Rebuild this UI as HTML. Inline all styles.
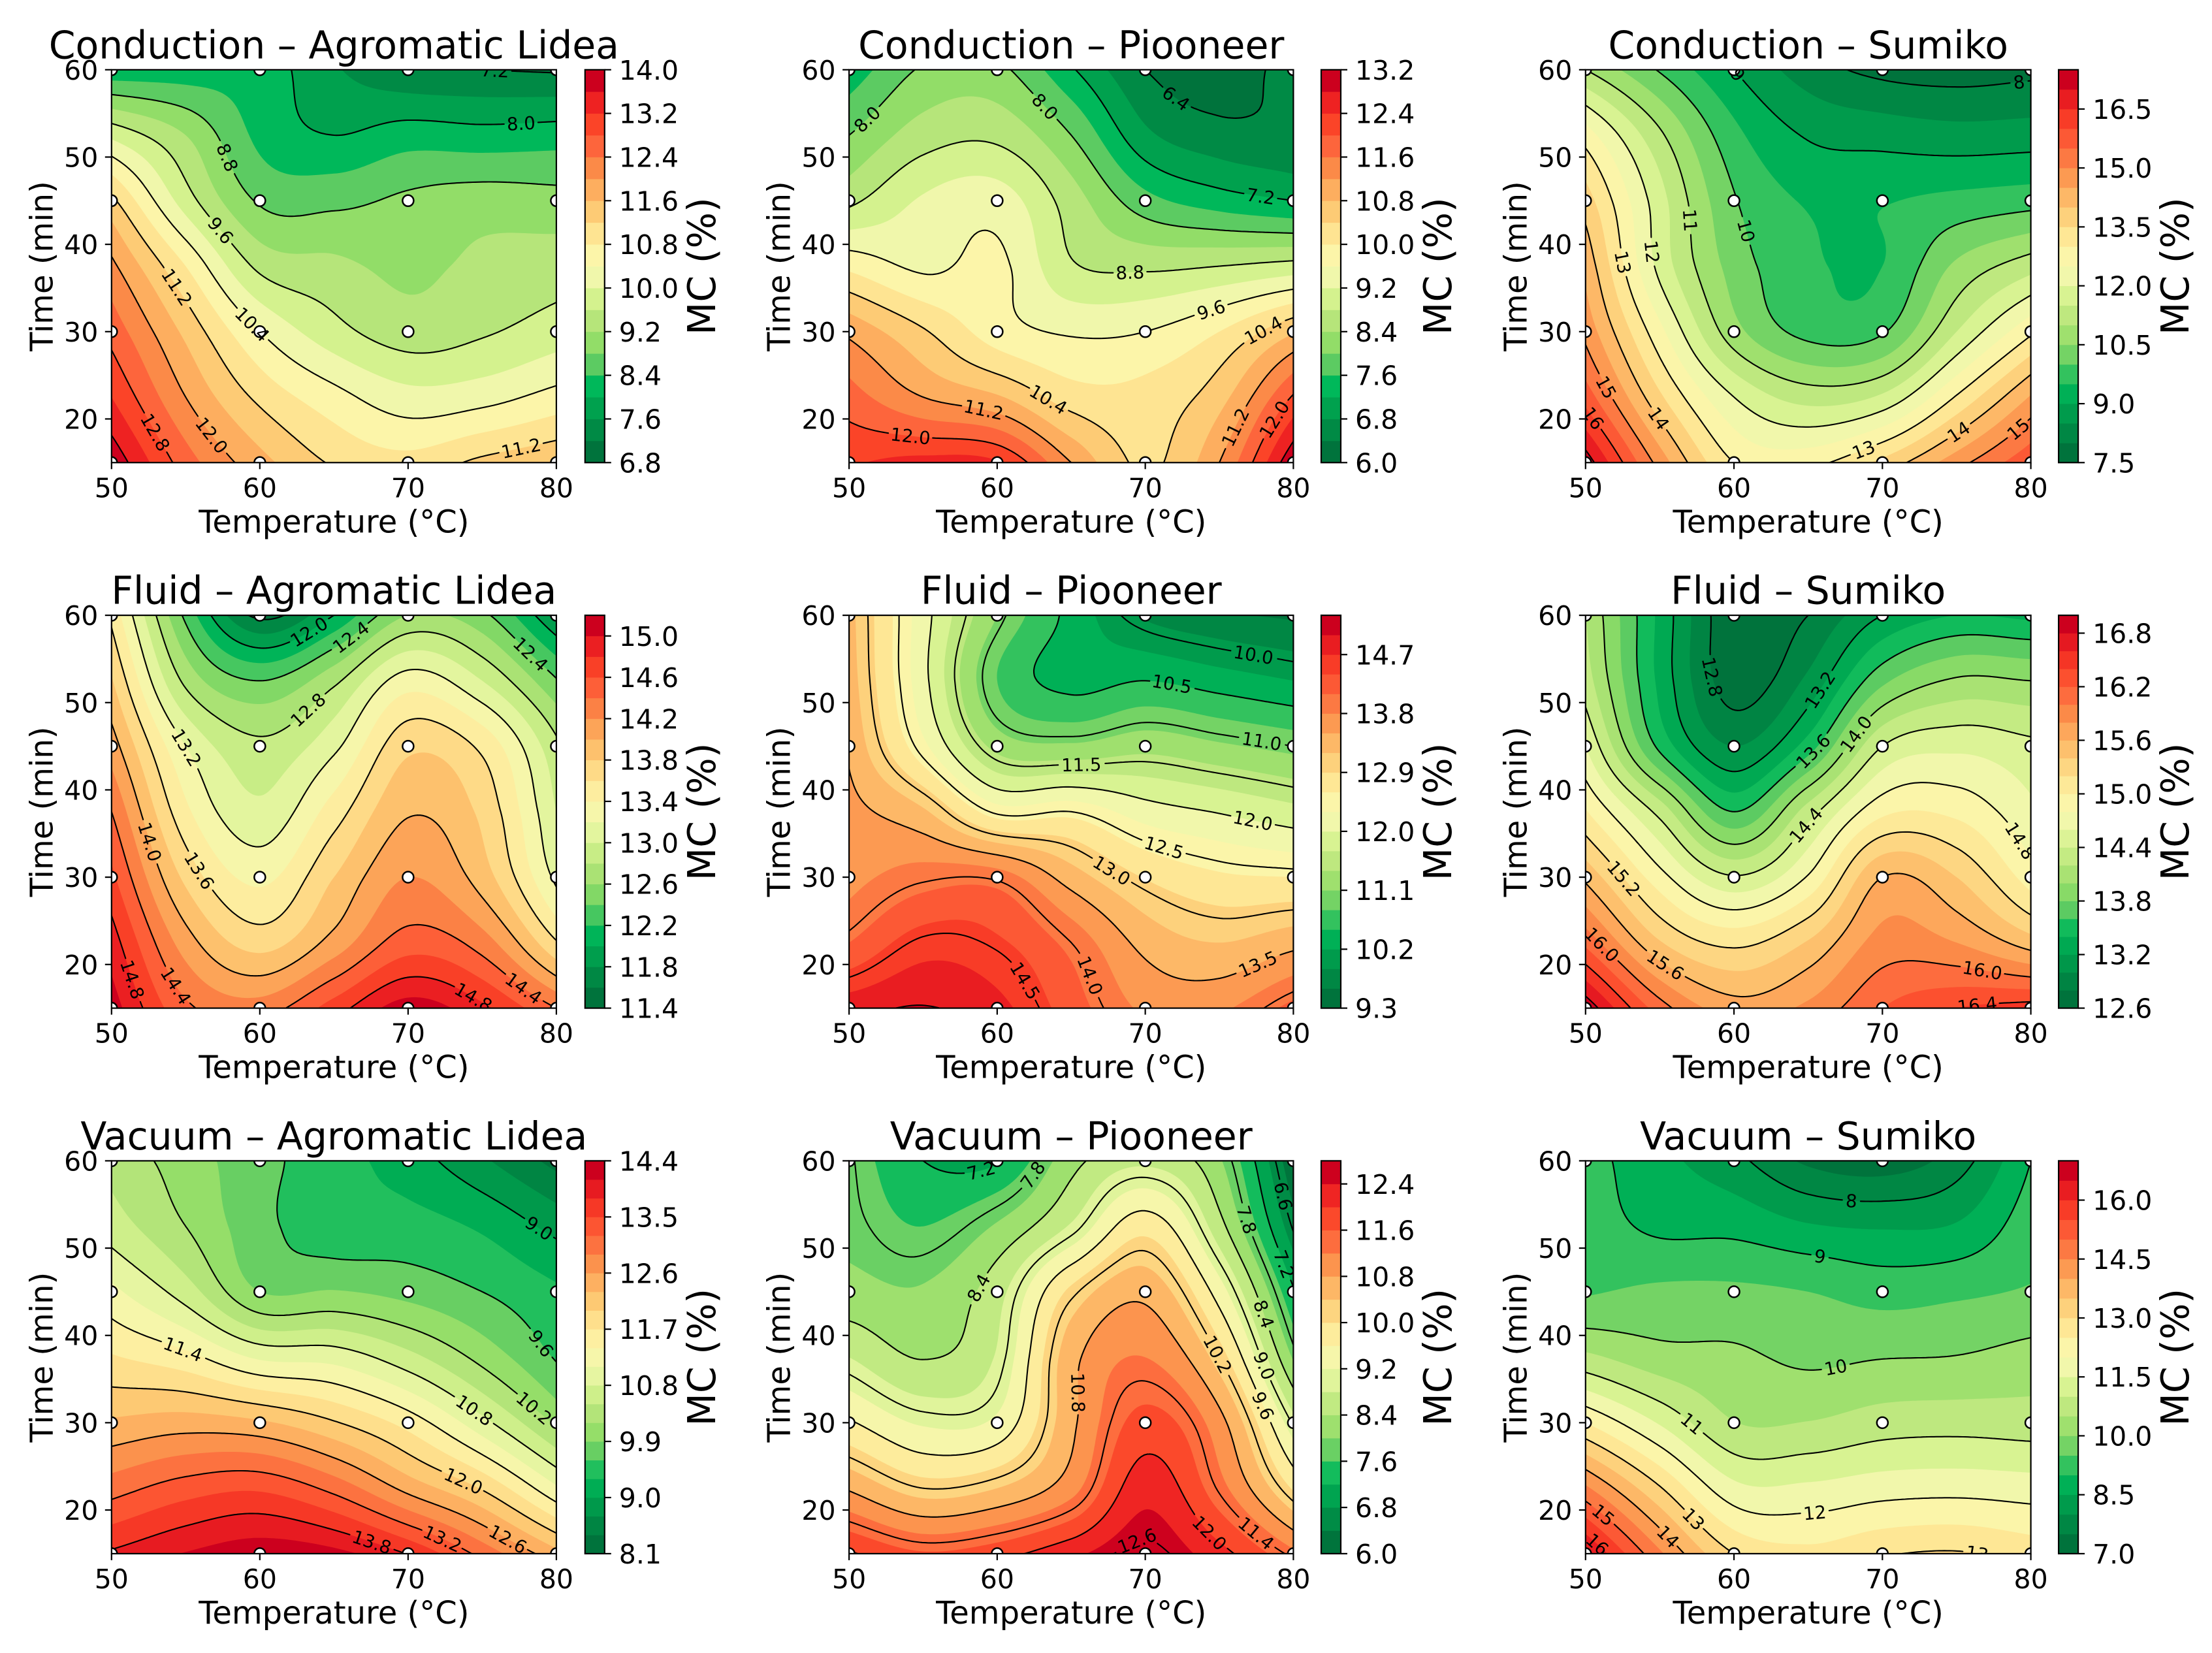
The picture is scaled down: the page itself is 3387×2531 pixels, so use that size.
<!DOCTYPE html>
<html lang="en">
<head>
<meta charset="utf-8">
<title>Moisture content contour maps</title>
<style>
html,body{margin:0;padding:0;background:#fff;}
svg{display:block;}
text{font-family:"DejaVu Sans","Liberation Sans",sans-serif;fill:#000;}
</style>
</head>
<body>
<svg id="chart" xmlns="http://www.w3.org/2000/svg" width="3387" height="2531" viewBox="0 0 3387 2531">
<rect x="0" y="0" width="3387" height="2531" fill="#ffffff"></rect>
</svg>
<script>
// ---- Shared axes data ----
const temperatures = [50, 55, 60, 65, 70, 75, 80];
const times = [15, 22.5, 30, 37.5, 45, 52.5, 60];
const sampleTemperatures = [50, 60, 70, 80];
const sampleTimes = [15, 30, 45, 60];
const xTickValues = [50, 60, 70, 80];
const yTickValues = [20, 30, 40, 50, 60];
const panelTitles = [
  'Conduction – Agromatic Lidea', 'Conduction – Piooneer', 'Conduction – Sumiko',
  'Fluid – Agromatic Lidea', 'Fluid – Piooneer', 'Fluid – Sumiko',
  'Vacuum – Agromatic Lidea', 'Vacuum – Piooneer', 'Vacuum – Sumiko'
];

// ---- MC (%) surfaces: one row per time, one column per temperature ----
const conductionAgromatic = [
  [13.9,12.6,11.75,11.15,10.95,11.3,11.55],
  [13.2,12.0,11.1,10.55,10.15,10.25,10.55],
  [12.65,11.5,10.4,9.75,9.4,9.55,9.8],
  [12.1,10.8,9.5,9.3,9.1,9.3,9.4],
  [11.3,9.8,8.75,8.7,8.88,9.0,8.95],
  [9.9,9.2,8.3,8.0,8.2,8.15,8.2],
  [8.1,8.15,8.2,7.65,7.25,7.2,7.15]
];
const conductionPiooneer = [
  [12.35,12.55,12.45,11.2,10.33,11.2,13.15],
  [11.78,11.2,10.85,10.2,10.15,10.65,12.05],
  [11.1,10.45,9.8,9.55,9.6,10.0,10.75],
  [9.9,9.52,9.7,8.85,8.72,8.8,8.95],
  [8.7,9.25,9.4,8.6,7.75,7.4,7.2],
  [8.0,8.6,8.7,8.0,6.9,6.55,6.5],
  [7.35,8.05,8.1,7.25,6.4,6.15,6.6]
];
const conductionSumiko = [
  [17.3,14.8,13.0,12.85,13.65,14.8,15.9],
  [15.8,13.6,12.0,11.3,11.6,13.05,14.55],
  [14.85,12.65,10.7,9.85,9.95,11.5,12.9],
  [14.35,11.85,10.3,9.6,9.5,10.6,11.3],
  [13.75,11.7,10.05,9.45,9.47,9.65,9.8],
  [12.75,11.1,9.65,8.95,8.8,8.7,8.75],
  [11.0,9.95,9.0,8.25,7.85,7.75,7.85]
];
const fluidAgromatic = [
  [15.1,14.45,14.3,14.7,15.1,14.85,14.4],
  [14.9,14.1,13.72,14.08,14.5,14.3,13.62],
  [14.65,13.75,13.35,13.8,14.2,13.9,13.15],
  [14.4,13.45,13.05,13.5,13.98,13.75,13.0],
  [14.1,13.2,12.85,13.15,13.75,13.55,12.85],
  [13.82,12.75,12.4,12.75,13.3,13.0,12.42],
  [13.55,12.35,11.55,12.0,12.6,12.45,11.8]
];
const fluidPiooneer = [
  [14.9,15.02,14.8,14.25,13.75,13.75,14.2],
  [14.1,14.55,14.45,14.0,13.4,13.2,13.4],
  [13.7,13.95,13.95,13.35,12.88,12.65,12.6],
  [13.6,13.25,12.45,12.5,12.15,11.98,11.8],
  [13.45,12.38,11.3,11.15,11.3,11.15,11.0],
  [13.35,12.1,10.8,10.4,10.5,10.35,10.2],
  [13.3,12.13,11.1,10.4,9.85,9.65,9.55]
];
const fluidSumiko = [
  [16.95,16.1,15.7,15.85,16.2,16.4,16.5],
  [16.15,15.42,15.15,15.42,15.88,15.8,15.5],
  [15.55,14.88,14.42,14.82,15.6,15.4,14.9],
  [15.02,14.33,13.6,14.3,14.95,14.95,14.65],
  [14.6,13.55,13.0,13.5,14.4,14.55,14.45],
  [14.3,13.35,12.7,13.05,13.75,14.03,14.0],
  [14.2,13.35,12.65,12.8,13.2,13.4,13.35]
];
const vacuumAgromatic = [
  [13.85,14.12,14.3,14.2,13.78,13.1,12.4],
  [13.07,13.35,13.45,13.1,12.5,11.97,11.15],
  [12.35,12.45,12.35,12.03,11.58,10.9,10.15],
  [11.73,11.5,11.05,10.98,10.6,10.1,9.57],
  [11.18,10.65,9.9,9.92,9.8,9.6,9.35],
  [10.65,10.2,9.7,9.42,9.42,9.25,8.9],
  [10.4,10.05,9.7,9.42,9.15,8.75,8.3]
];
const vacuumPiooneer = [
  [12.05,11.65,11.85,12.3,12.7,12.15,11.3],
  [10.75,10.2,10.4,11.05,12.25,11.35,9.95],
  [9.65,9.15,9.3,10.7,11.75,10.95,8.95],
  [8.8,8.38,8.85,10.65,11.2,10.2,7.95],
  [8.15,8.05,8.65,10.1,10.68,9.4,7.25],
  [7.9,7.6,8.05,8.85,9.85,8.55,6.55],
  [7.85,7.2,7.15,8.25,8.7,8.05,6.1]
];
const vacuumSumiko = [
  [16.6,14.6,13.0,12.65,12.95,13.05,12.8],
  [14.6,13.05,11.65,11.6,11.78,11.83,11.75],
  [12.5,11.45,10.52,10.52,10.75,10.8,10.75],
  [10.62,10.2,10.1,9.9,9.98,10.02,10.2],
  [9.45,9.6,9.6,9.5,9.3,9.4,9.55],
  [9.25,8.9,8.85,8.55,8.45,8.55,9.3],
  [9.2,8.65,8.15,7.4,7.2,7.75,9.0]
];
const panelSurfaces = [conductionAgromatic, conductionPiooneer, conductionSumiko, fluidAgromatic, fluidPiooneer, fluidSumiko, vacuumAgromatic, vacuumPiooneer, vacuumSumiko];

// ---- Contour levels ----
const bandStarts = [6.8, 6.0, 7.5, 11.4, 9.3, 12.6, 8.1, 6.0, 7.0];
const bandSteps = [0.4, 0.4, 0.5, 0.2, 0.3, 0.2, 0.3, 0.4, 0.5];
const bandCounts = [18, 18, 20, 19, 20, 22, 21, 17, 20];
const lineLevels = [
  [7.2,8.0,8.8,9.6,10.4,11.2,12.0,12.8,13.6],
  [6.4,7.2,8.0,8.8,9.6,10.4,11.2,12.0,12.8],
  [8,9,10,11,12,13,14,15,16,17],
  [11.6,12.0,12.4,12.8,13.2,13.6,14.0,14.4,14.8],
  [10.0,10.5,11.0,11.5,12.0,12.5,13.0,13.5,14.0,14.5,15.0],
  [12.8,13.2,13.6,14.0,14.4,14.8,15.2,15.6,16.0,16.4,16.8],
  [9.0,9.6,10.2,10.8,11.4,12.0,12.6,13.2,13.8],
  [6.6,7.2,7.8,8.4,9.0,9.6,10.2,10.8,11.4,12.0,12.6],
  [8,9,10,11,12,13,14,15,16]
];
const lineDecimals = [1, 1, 0, 1, 1, 1, 1, 1, 0];
const colorbarTicks = [
  ['6.8','7.6','8.4','9.2','10.0','10.8','11.6','12.4','13.2','14.0'],
  ['6.0','6.8','7.6','8.4','9.2','10.0','10.8','11.6','12.4','13.2'],
  ['7.5','9.0','10.5','12.0','13.5','15.0','16.5'],
  ['11.4','11.8','12.2','12.6','13.0','13.4','13.8','14.2','14.6','15.0'],
  ['9.3','10.2','11.1','12.0','12.9','13.8','14.7'],
  ['12.6','13.2','13.8','14.4','15.0','15.6','16.2','16.8'],
  ['8.1','9.0','9.9','10.8','11.7','12.6','13.5','14.4'],
  ['6.0','6.8','7.6','8.4','9.2','10.0','10.8','11.6','12.4'],
  ['7.0','8.5','10.0','11.5','13.0','14.5','16.0']
];

// ---- Inline contour labels: [level, temperature, time] ----
const contourLabels = [
  [[7.2,75.8,59.7],[8.0,77.6,54],[8.8,57.9,50],[9.6,57.1,41.3],[10.4,59.5,30.9],[11.2,54.3,34.9],[11.2,77.6,17],[12.0,56.8,18.2],[12.8,53,18.6]],
  [[6.4,72.1,56.8],[7.2,77.8,45.6],[8.0,51.1,54.5],[8.0,63,55.5],[8.8,69,37.1],[9.6,74.4,32.8],[10.4,77.8,30.5],[10.4,63.3,21.8],[11.2,59.1,21.4],[11.2,75.9,19.1],[12.0,54.2,18.3],[12.0,78.6,20.1]],
  [[8,79.1,59],[9,60.2,59.3],[10,60.7,41.4],[11,57,42.8],[12,54.8,39.1],[13,52.6,38.1],[14,54.9,20],[15,51.4,23.7],[16,50.7,20.2],[13,68.7,16.7],[14,75.1,18.5],[15,79,19.1]],
  [[12.0,63.3,58.3],[12.4,66,57.8],[12.4,78.5,56],[12.8,63,49.7],[13.2,55.2,44.9],[13.6,55.7,30.5],[14.0,52.6,34.1],[14.4,54.5,17.8],[14.8,51.4,18.2],[14.8,74.5,16.8],[14.4,77.9,17.4]],
  [[10.0,77.3,55.5],[10.5,71.8,52.1],[11.0,77.9,45.8],[11.5,65.7,43],[12.0,77.3,36.8],[12.5,71.3,33.3],[13.0,67.8,30.9],[13.5,77.6,19.7],[14.0,66,18.6],[14.5,62.3,18.6]],
  [[12.8,59.2,53.3],[13.2,66,51.3],[13.6,65.1,44.7],[14.0,68.2,46.5],[14.4,64.9,36],[14.8,78.9,33.7],[15.2,52.4,29.6],[15.6,55.5,20.4],[16.0,51.1,22.2],[16.0,76.7,19.2],[16.4,76.3,15.8]],
  [[9.0,78.8,52.4],[9.6,79,39.1],[10.2,78.4,31.3],[10.8,74.4,31.3],[11.4,54.9,38.6],[12.0,73.7,23.1],[12.6,76.8,16.8],[13.2,72.4,16.8],[13.8,67.6,16.4]],
  [[6.6,79.5,56],[7.2,58.9,58.9],[7.8,62.4,58.5],[7.8,77.2,53.4],[7.2,79.4,48.1],[8.4,59.1,45.2],[8.4,78.2,42.7],[9.0,78.2,36.7],[9.6,77.9,32],[10.2,74.9,37.9],[10.8,66,33.6],[11.4,77.5,17.4],[12.0,74.3,17.3],[12.6,69.7,15.5]],
  [[8,67.9,55],[9,65.8,49.1],[10,66.9,36.2],[11,57.2,30],[12,65.5,20],[13,57.2,18.9],[14,55.5,16.8],[15,51.2,19.6],[16,50.9,16.4],[13,76.4,15.5]]
];

// ---- Colormap (green - yellow - red) ----
const cmapColors = ['#00733c','#008a45','#00a14e','#00b85a','#5ccb62','#92dd68','#b6e57a','#d4f28e','#f0f7ab','#fcf5a9','#fee492','#fdcb75','#fdae5f','#fb8a48','#fd653c','#fb4428','#ee2222','#cc001e'];

// ---- Layout ----
const NS = 'http://www.w3.org/2000/svg';
const svg = document.getElementById('chart');
const colLefts = [170.8, 1300.1, 2427.8];
const colWidths = [681.1, 680.3, 681.8];
const rowTops = [106.8, 942.1, 1777.4];
const axesHeight = 601.5;
const cbarLefts = [895.8, 2023.0, 3152.1];
const cbarWidth = 30;
const NX = 170, NY = 150;

function parseHex(h){return [1,3,5].map(i=>parseInt(h.substr(i,2),16));}
function cmap(t){
  const n = cmapColors.length;
  let p = t*n-0.5;
  if(p<0)p=0; if(p>n-1)p=n-1;
  const i = Math.min(Math.floor(p),n-2), u = p-i;
  const a = parseHex(cmapColors[i]), b = parseHex(cmapColors[i+1]);
  return 'rgb('+a.map((v,k)=>Math.round(v+(b[k]-v)*u)).join(',')+')';
}
function node(tag,parent,attrs){
  const e = document.createElementNS(NS,tag);
  for(const k in attrs)e.setAttribute(k,attrs[k]);
  parent.appendChild(e);
  return e;
}
function cell(grid,r,c){
  const mr = grid.length-1, mc = grid[0].length-1;
  if(c<0)return 2*cell(grid,r,0)-cell(grid,r,1);
  if(c>mc)return 2*cell(grid,r,mc)-cell(grid,r,mc-1);
  if(r<0)return 2*cell(grid,0,c)-cell(grid,1,c);
  if(r>mr)return 2*cell(grid,mr,c)-cell(grid,mr-1,c);
  return grid[r][c];
}
function spline(p0,p1,p2,p3,u){
  return 0.5*(2*p1+(-p0+p2)*u+(2*p0-5*p1+4*p2-p3)*u*u+(-p0+3*p1-3*p2+p3)*u*u*u);
}
function surface(grid,T,t){
  const fx = (T-temperatures[0])/(temperatures[1]-temperatures[0]);
  const fy = (t-times[0])/(times[1]-times[0]);
  const c = Math.max(0,Math.min(temperatures.length-2,Math.floor(fx))), u = fx-c;
  const r = Math.max(0,Math.min(times.length-2,Math.floor(fy))), v = fy-r;
  const rows = [];
  for(let k=-1;k<=2;k++){
    rows.push(spline(cell(grid,r+k,c-1),cell(grid,r+k,c),cell(grid,r+k,c+1),cell(grid,r+k,c+2),u));
  }
  return spline(rows[0],rows[1],rows[2],rows[3],v);
}
function fmt(v){return v.toFixed(1);}

function drawPanel(index){
  const col = index%3, row = Math.floor(index/3);
  const left = colLefts[col], width = colWidths[col], top = rowTops[row], height = axesHeight;
  const bottom = top+height, right = left+width;
  const grid = panelSurfaces[index];
  const T0 = temperatures[0], T1 = temperatures[temperatures.length-1];
  const t0 = times[0], t1 = times[times.length-1];
  const xScale = T=>left+(T-T0)/(T1-T0)*width;
  const yScale = t=>bottom-(t-t0)/(t1-t0)*height;
  const xInv = x=>T0+(x-left)/width*(T1-T0);
  const yInv = y=>t0+(bottom-y)/height*(t1-t0);

  const panel = node('g',svg,{});
  
  

  const clip = node('clipPath',panel,{id:'clip-'+index});
  
  
  const clipRect = node('rect',clip,{x:left,y:top,width:width,height:height});
  
  

  const plot = node('g',panel,{'clip-path':'url(#clip-'+index+')'});
  
  

  // evaluate the surface on a fine lattice
  const field = [], px = [], py = [];
  for(let i=0;i<=NX;i++)px.push(left+i/NX*width);
  for(let j=0;j<=NY;j++)py.push(bottom-j/NY*height);
  for(let j=0;j<=NY;j++){
    const line = [];
    for(let i=0;i<=NX;i++)line.push(surface(grid,xInv(px[i]),yInv(py[j])));
    field.push(line);
  }

  // filled bands
  const n = bandCounts[index], start = bandStarts[index], step = bandSteps[index];
  const baseBand = node('rect',plot,{x:left,y:top,width:width,height:height,fill:cmap(0.5/n)});
  
  
  for(let k=1;k<n;k++){
    const d = bandPath(field,px,py,start+k*step);
    if(!d)continue;
    const band = node('path',plot,{d:d,fill:cmap((k+0.5)/n),'fill-rule':'nonzero'});
    
    
  }

  // isolines
  const levels = lineLevels[index];
  const segments = levels.map(L=>lineSegments(field,px,py,L));

  // labels: snapped to the isoline of their level
  const placed = [];
  const digitsOf = contourLabels[index];
  digitsOf.forEach(item=>{
    const L = item[0], lx = xScale(item[1]), ly = yScale(item[2]);
    const li = levels.findIndex(v=>Math.abs(v-L)<1e-6);
    let bx = lx, by = ly, best = 70*70;
    if(li>=0){
      segments[li].forEach(s=>{
        const mx=(s[0]+s[2])/2, my=(s[1]+s[3])/2, d=(mx-lx)*(mx-lx)+(my-ly)*(my-ly);
        if(d<best){best=d;bx=mx;by=my;}
      });
    }
    const h = 16;
    const gx = (surface(grid,xInv(bx+h),yInv(by))-surface(grid,xInv(bx-h),yInv(by)));
    const gy = (surface(grid,xInv(bx),yInv(by+h))-surface(grid,xInv(bx),yInv(by-h)));
    let ang = Math.atan2(-gx,gy)*180/Math.PI;
    if(ang>90)ang-=180;
    if(ang<-90)ang+=180;
    const str = L.toFixed(lineDecimals[index]);
    let w = 0;
    for(const ch of str)w += ch==='.'?0.318:0.636;
    placed.push({li:li,x:bx,y:by,ang:ang,str:str,half:w*27.5/2+5});
  });

  levels.forEach((L,li)=>{
    const parts = [];
    const guards = placed.filter(p=>p.li===li);
    segments[li].forEach(s=>{
      const mx=(s[0]+s[2])/2, my=(s[1]+s[3])/2;
      for(const g of guards){
        const a = g.ang*Math.PI/180, dx = mx-g.x, dy = my-g.y;
        const ex = dx*Math.cos(a)+dy*Math.sin(a), ey = -dx*Math.sin(a)+dy*Math.cos(a);
        if(Math.abs(ex)<g.half && Math.abs(ey)<16)return;
      }
      parts.push('M'+fmt(s[0])+' '+fmt(s[1])+'L'+fmt(s[2])+' '+fmt(s[3]));
    });
    if(!parts.length)return;
    const line = node('path',plot,{d:parts.join(''),fill:'none',stroke:'#000','stroke-width':2.1,'stroke-linecap':'round'});
    
    
  });

  // sample points
  sampleTimes.forEach(t=>{
    sampleTemperatures.forEach(T=>{
      const dot = node('circle',plot,{cx:xScale(T),cy:yScale(t),r:8.5,fill:'#fff',stroke:'#000','stroke-width':2.5});
      
      
    });
  });

  // contour labels
  placed.forEach(p=>{
    const label = node('text',plot,{x:p.x,y:p.y+10,'font-size':27.5,'text-anchor':'middle',transform:'rotate('+p.ang.toFixed(1)+' '+p.x.toFixed(1)+' '+p.y.toFixed(1)+')'});
    
    
    label.textContent = p.str;
  });

  // frame
  const frame = node('rect',panel,{x:left,y:top,width:width,height:height,fill:'none',stroke:'#000','stroke-width':2.2});
  
  

  // x axis
  xTickValues.forEach(v=>{
    const x = xScale(v);
    const tick = node('line',panel,{x1:x,x2:x,y1:bottom,y2:bottom+10,stroke:'#000','stroke-width':2.2});
    
    
    const lab = node('text',panel,{x:x,y:bottom+53,'font-size':41,'text-anchor':'middle'});
    
    
    lab.textContent = String(v);
  });
  // y axis
  yTickValues.forEach(v=>{
    const y = yScale(v);
    const tick = node('line',panel,{x1:left-10,x2:left,y1:y,y2:y,stroke:'#000','stroke-width':2.2});
    
    
    const lab = node('text',panel,{x:left-20.5,y:y+15,'font-size':41,'text-anchor':'end'});
    
    
    lab.textContent = String(v);
  });

  const title = node('text',panel,{x:left+width/2,y:top-17.4,'font-size':58.4,'text-anchor':'middle'});
  
  
  title.textContent = panelTitles[index];

  const xTitle = node('text',panel,{x:left+width/2,y:bottom+107,'font-size':48,'text-anchor':'middle'});
  
  
  xTitle.textContent = 'Temperature (°C)';

  const yx = left-90.5, yy = top+height/2;
  const yTitle = node('text',panel,{x:yx,y:yy,'font-size':48,'text-anchor':'middle',transform:'rotate(-90 '+yx+' '+yy+')'});
  
  
  yTitle.textContent = 'Time (min)';

  // colorbar
  const cbLeft = cbarLefts[col], cbRight = cbLeft+cbarWidth;
  const vmin = start, vmax = start+n*step;
  const cbScale = v=>bottom-(v-vmin)/(vmax-vmin)*height;
  const bar = node('g',panel,{});
  
  
  for(let k=0;k<n;k++){
    const yTop = cbScale(start+(k+1)*step), yBot = cbScale(start+k*step);
    const seg = node('rect',bar,{x:cbLeft,y:yTop,width:cbarWidth,height:yBot-yTop+0.4,fill:cmap((k+0.5)/n)});
    
    
  }
  const outline = node('rect',bar,{x:cbLeft,y:top,width:cbarWidth,height:height,fill:'none',stroke:'#000','stroke-width':2.2});
  
  
  colorbarTicks[index].forEach(str=>{
    const y = cbScale(parseFloat(str));
    const tick = node('line',bar,{x1:cbRight,x2:cbRight+10,y1:y,y2:y,stroke:'#000','stroke-width':2.2});
    
    
    const lab = node('text',bar,{x:cbRight+22,y:y+15,'font-size':41});
    
    
    lab.textContent = str;
  });
  const cx = cbRight+169, cy = top+height/2;
  const cbTitle = node('text',bar,{x:cx,y:cy,'font-size':58.4,'text-anchor':'middle',transform:'rotate(-90 '+cx+' '+cy+')'});
  
  
  cbTitle.textContent = 'MC (%)';
}

function bandPath(field,px,py,L){
  const out = [];
  for(let j=0;j<NY;j++){
    let run = -1;
    for(let i=0;i<=NX;i++){
      let full = false;
      if(i<NX){
        full = field[j][i]>=L && field[j][i+1]>=L && field[j+1][i]>=L && field[j+1][i+1]>=L;
      }
      if(full){ if(run<0)run=i; continue; }
      if(run>=0){
        out.push('M'+fmt(px[run])+' '+fmt(py[j])+'H'+fmt(px[i])+'V'+fmt(py[j+1])+'H'+fmt(px[run])+'Z');
        run = -1;
      }
      if(i===NX)break;
      const xs = [px[i],px[i+1],px[i+1],px[i]];
      const ys = [py[j],py[j],py[j+1],py[j+1]];
      const zs = [field[j][i],field[j][i+1],field[j+1][i+1],field[j+1][i]];
      if(zs.every(z=>z<L))continue;
      const pts = [];
      for(let c=0;c<4;c++){
        const d = (c+1)%4;
        if(zs[c]>=L)pts.push([xs[c],ys[c]]);
        if((zs[c]>=L)!==(zs[d]>=L)){
          const u = (L-zs[c])/(zs[d]-zs[c]);
          pts.push([xs[c]+(xs[d]-xs[c])*u,ys[c]+(ys[d]-ys[c])*u]);
        }
      }
      if(pts.length>2)out.push('M'+pts.map(p=>fmt(p[0])+' '+fmt(p[1])).join('L')+'Z');
    }
  }
  return out.join('');
}

function lineSegments(field,px,py,L){
  const segs = [];
  for(let j=0;j<NY;j++){
    for(let i=0;i<NX;i++){
      const xs = [px[i],px[i+1],px[i+1],px[i]];
      const ys = [py[j],py[j],py[j+1],py[j+1]];
      const zs = [field[j][i],field[j][i+1],field[j+1][i+1],field[j+1][i]];
      const hits = [];
      for(let c=0;c<4;c++){
        const d = (c+1)%4;
        if((zs[c]>=L)!==(zs[d]>=L)){
          const u = (L-zs[c])/(zs[d]-zs[c]);
          hits.push([xs[c]+(xs[d]-xs[c])*u,ys[c]+(ys[d]-ys[c])*u]);
        }
      }
      for(let h=0;h+1<hits.length;h+=2){
        segs.push([hits[h][0],hits[h][1],hits[h+1][0],hits[h+1][1]]);
      }
    }
  }
  return segs;
}

for(let p=0;p<panelSurfaces.length;p++)drawPanel(p);
</script>
</body>
</html>
